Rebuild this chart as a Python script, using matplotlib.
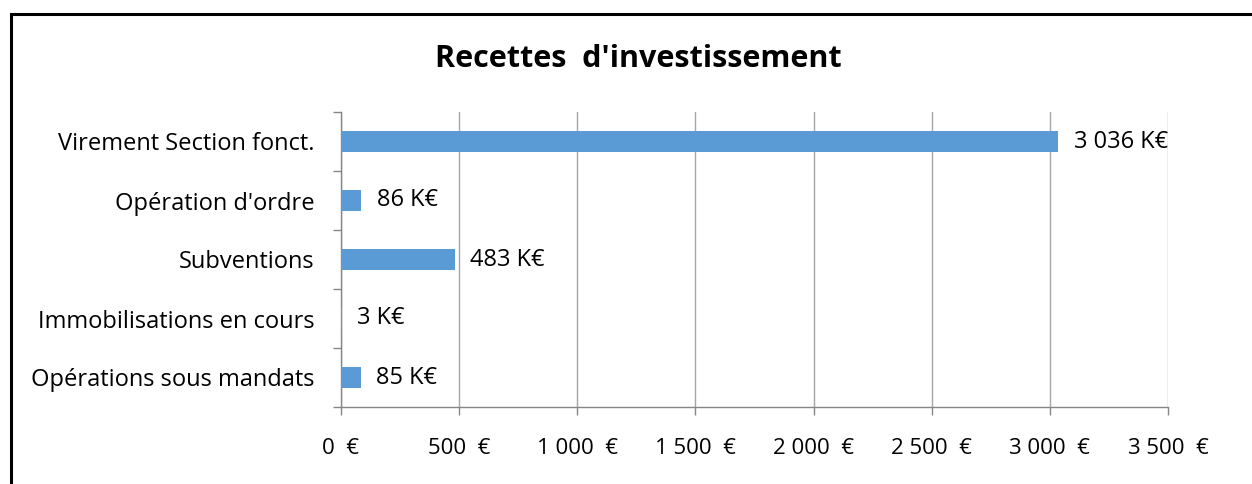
import matplotlib
matplotlib.use('Agg')
import matplotlib.pyplot as plt
from matplotlib.patches import Rectangle
from matplotlib.ticker import FixedLocator

plt.rcParams['font.family'] = ['Open Sans', 'DejaVu Sans']

categories = ['Virement Section fonct.', "Opération d'ordre", 'Subventions',
              'Immobilisations en cours', 'Opérations sous mandats']
values = [3036, 86, 483, 3, 85]
value_labels = ['3 036 K€', '86 K€', '483 K€', '3 K€', '85 K€']
x_ticks = [0, 500, 1000, 1500, 2000, 2500, 3000, 3500]
x_tick_labels = ['0  €', '500  €', '1 000  €', '1 500  €', '2 000  €',
                 '2 500  €', '3 000  €', '3 500  €']

bar_color = '#5B9BD5'
grid_color = '#A6A6A6'
axis_color = '#868686'
fs = 17

fig = plt.figure(figsize=(12.52, 4.84), dpi=100)
ax = fig.add_axes([341 / 1252, 1 - 407 / 484, 827 / 1252, 295 / 484])

# outer frame of the chart (cut at right and bottom)
fig.patches.append(Rectangle((11 / 1252, -0.1), 1.2, 1 - 14 / 484 + 0.1,
                             transform=fig.transFigure, fill=False,
                             edgecolor='black', linewidth=2.2))

ypos = list(range(len(categories)))
ax.barh(ypos, values, height=0.37, color=bar_color, zorder=3)
for y, v, lab in zip(ypos, values, value_labels):
    ax.text(v + 65, y, lab, va='center', ha='left', fontsize=fs, zorder=4)

ax.set_xlim(0, 3500)
ax.set_ylim(len(categories) - 0.5, -0.5)

ax.set_xticks(x_ticks)
ax.set_xticklabels(x_tick_labels, fontsize=16)
ax.set_yticks(ypos)
ax.set_yticklabels(categories, fontsize=fs)
ax.yaxis.set_minor_locator(FixedLocator([i - 0.5 for i in range(len(categories) + 1)]))

ax.tick_params(axis='y', which='major', length=0, pad=19)
ax.tick_params(axis='y', which='minor', length=6, color=axis_color, width=1)
ax.tick_params(axis='x', which='major', length=6, color=axis_color, width=1, pad=16)

ax.grid(axis='x', color=grid_color, linewidth=1, zorder=0)
for side in ['top', 'right']:
    ax.spines[side].set_visible(False)
for side in ['left', 'bottom']:
    ax.spines[side].set_color(axis_color)
    ax.spines[side].set_linewidth(1)

fig.text(638 / 1252, 1 - 59 / 484, "Recettes  d'investissement", ha='center',
         va='center', fontsize=22, fontweight='bold')

fig.savefig('out.png', dpi=100)
